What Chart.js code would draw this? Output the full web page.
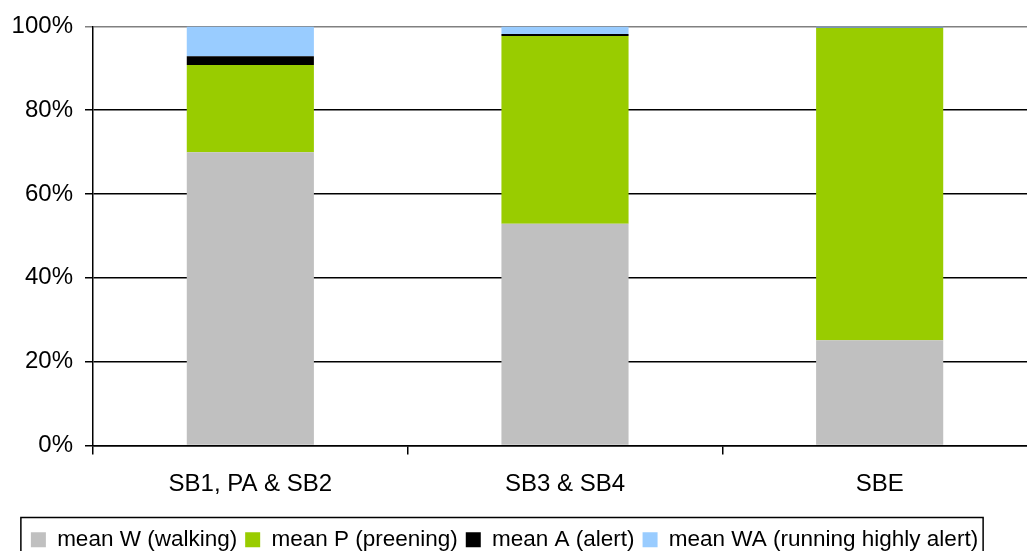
<!DOCTYPE html>
<html>
<head>
<meta charset="utf-8">
<script src="https://cdn.jsdelivr.net/npm/chart.js@4/dist/chart.umd.min.js"></script>
<style>
  html, body { margin: 0; padding: 0; background: #fff; overflow: hidden; }
  #wrap { width: 1040px; height: 561px; }
</style>
</head>
<body>
<div id="wrap"><canvas id="c" width="1040" height="561"></canvas></div>
<script>
// Behaviour shares per site group (percent of observed time)
const categories = ['SB1, PA & SB2', 'SB3 & SB4', 'SBE'];
const walking   = [70.0, 52.9, 25.1];
const preening  = [20.8, 44.8, 74.5];
const alert     = [2.1, 0.5, 0.1];
const runningWA = [7.1, 1.8, 0.3];
const yTicks = [0, 20, 40, 60, 80, 100];

const FONT = 'Liberation Sans, Arial, sans-serif';
const LEGEND_SHIFT = -14;   // legend sits a little left of the canvas centre

// Frame drawn around the legend items
const legendFrame = {
  id: 'legendFrame',
  afterDraw(chart) {
    const lg = chart.legend;
    if (!lg || !lg.legendHitBoxes || !lg.legendHitBoxes.length) return;
    const boxes = lg.legendHitBoxes;
    const left = Math.min(...boxes.map(b => b.left)) - 10 + LEGEND_SHIFT;
    const right = Math.max(...boxes.map(b => b.left + b.width)) + 5 + LEGEND_SHIFT;
    const top = Math.min(...boxes.map(b => b.top)) - 11;
    const ctx = chart.ctx;
    ctx.save();
    ctx.strokeStyle = '#000';
    ctx.lineWidth = 1.5;
    ctx.strokeRect(left, top, right - left, chart.height + 20 - top);
    ctx.restore();
  }
};

const ds = (label, data, color) => ({
  label, data, backgroundColor: color, borderWidth: 0,
  barPercentage: 1, categoryPercentage: 0.404
});

const chart = new Chart(document.getElementById('c'), {
  type: 'bar',
  data: {
    labels: categories,
    datasets: [
      ds('mean W (walking)', walking, '#C0C0C0'),
      ds('mean P (preening)', preening, '#99CC00'),
      ds('mean A (alert)', alert, '#000000'),
      ds('mean WA (running highly alert)', runningWA, '#99CCFF')
    ]
  },
  options: {
    responsive: false,
    animation: false,
    layout: { padding: { top: 15, right: 3, left: 0, bottom: 0 } },
    plugins: {
      tooltip: { enabled: false },
      legend: {
        position: 'bottom',
        labels: {
          boxWidth: 15, boxHeight: 15, padding: 8,
          color: '#000',
          font: { family: FONT, size: 22.5 }
        }
      }
    },
    scales: {
      x: {
        stacked: true,
        afterFit: s => { s.height = 75; },
        grid: { drawOnChartArea: false, drawTicks: true, tickLength: 9, color: '#000', lineWidth: 1.5, offset: true },
        border: { color: '#000', width: 1.5 },
        ticks: { color: '#000', font: { family: FONT, size: 24 }, padding: 15 }
      },
      y: {
        stacked: true,
        min: 0, max: 100,
        afterFit: s => { s.width = 93; },
        afterBuildTicks: s => { s.ticks = yTicks.map(v => ({ value: v })); },
        grid: {
          color: c => (c.tick && c.tick.value === 100) ? '#808080' : '#000',
          lineWidth: 1.5, tickLength: 8
        },
        border: { color: '#000', width: 1.5 },
        ticks: {
          color: '#000', padding: 12,
          font: { family: FONT, size: 24 },
          callback: v => v + '%'
        }
      }
    }
  },
  plugins: [legendFrame]
});

// Draw the legend shifted horizontally
const baseLegendDraw = chart.legend.draw;
chart.legend.draw = function () {
  const ctx = this.ctx;
  ctx.save();
  ctx.translate(LEGEND_SHIFT, 0);
  baseLegendDraw.apply(this, arguments);
  ctx.restore();
};
chart.draw();
</script>
</body>
</html>
